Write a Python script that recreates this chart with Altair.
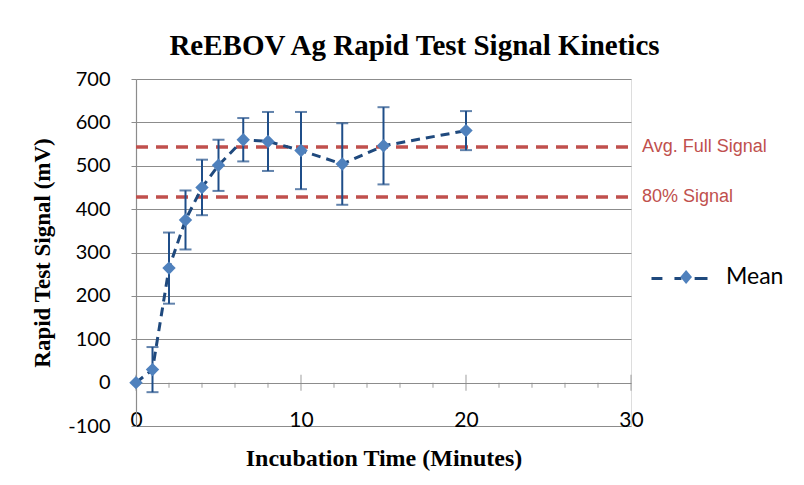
import altair as alt
import pandas as pd

# ---- data ----
time_min = [0, 1, 2, 3, 4, 5, 6.5, 8, 10, 12.5, 15, 20]
mean_mv = [0, 30, 264, 375, 450, 501, 560, 556, 535, 504, 546, 581]
sd_mv = [0, 52, 82, 68, 64, 59, 50, 68, 89, 94, 89, 45]

ref_labels = ["Avg. Full Signal", "80% Signal"]
ref_values = [543, 428]

x_major = [0, 10, 20, 30]
x_minor = [2, 4, 6, 8, 12, 14, 16, 18, 22, 24, 26, 28]
y_ticks = [-100, 0, 100, 200, 300, 400, 500, 600, 700]

df = pd.DataFrame({"t": time_min, "m": mean_mv, "sd": sd_mv})
df["lo"] = df["m"] - df["sd"]
df["hi"] = df["m"] + df["sd"]
df["series"] = "Mean"
eb = df[df["sd"] > 0]

ref = pd.DataFrame({"label": ref_labels, "v": ref_values, "x0": 0, "x1": 30})
major = pd.DataFrame({"t": x_major, "y": 0})
minor = pd.DataFrame({"t": x_minor, "y": 0})

GRAY = "#8c8c8c"
RED = "#C0504D"
DARK = "#1F497D"
LIGHT = "#4F81BD"

xs = alt.Scale(domain=[0, 30], nice=False)
ys = alt.Scale(domain=[-100, 700], nice=False)

x_axis = alt.Axis(values=x_major, domain=False, ticks=False, grid=False,
                  labelFont="Lato", labelFontSize=21, labelColor="#000",
                  labelBaseline="alphabetic", labelPadding=0, labelFlush=False,
                  title="Incubation Time (Minutes)", titleFont="Liberation Serif",
                  titleFontSize=24, titleFontWeight="bold", titleColor="#000",
                  titleBaseline="alphabetic", titleY=39)
y_axis = alt.Axis(values=y_ticks, grid=True, gridColor=GRAY, gridWidth=1.2,
                  domainColor=GRAY, domainWidth=1.2, tickColor=GRAY, tickSize=5,
                  labelFont="Lato", labelFontSize=20, labelColor="#000",
                  labelPadding=21, labelFlush=False, labelExpr="'' + datum.value",
                  title="Rapid Test Signal (mV)", titleFont="Liberation Serif",
                  titleFontSize=23, titleFontWeight="bold", titleColor="#000",
                  titleBaseline="middle", titleX=-94)

base = alt.Chart(df)

# invisible layer carrying the axes
axes = alt.Chart(df).mark_point(opacity=0).encode(
    x=alt.X("t:Q", scale=xs, axis=x_axis),
    y=alt.Y("m:Q", scale=ys, axis=y_axis),
)

ref_lines = alt.Chart(ref).mark_rule(color=RED, strokeWidth=3.5, strokeDash=[12, 8]).encode(
    x=alt.X("x0:Q", scale=xs), x2="x1:Q", y=alt.Y("v:Q", scale=ys)
)
ref_text = alt.Chart(ref).mark_text(align="left", baseline="middle", dx=11,
                                    font="Liberation Sans", fontSize=18, color=RED).encode(
    x=alt.X("x1:Q", scale=xs), y=alt.Y("v:Q", scale=ys), text="label:N"
)

major_ticks = alt.Chart(major).mark_tick(orient="vertical", size=16, thickness=1.2, color=GRAY).encode(
    x=alt.X("t:Q", scale=xs), y=alt.Y("y:Q", scale=ys)
)
minor_ticks = alt.Chart(minor).mark_tick(orient="vertical", size=5, thickness=1.2, color=GRAY,
                                         yOffset=2.5).encode(
    x=alt.X("t:Q", scale=xs), y=alt.Y("y:Q", scale=ys)
)

err_rule = alt.Chart(eb).mark_rule(color="#1F4E89", strokeWidth=2).encode(
    x=alt.X("t:Q", scale=xs), y=alt.Y("lo:Q", scale=ys), y2="hi:Q"
)
cap_lo = alt.Chart(eb).mark_tick(orient="horizontal", size=12, thickness=2, color="#1F4E89").encode(
    x=alt.X("t:Q", scale=xs), y=alt.Y("lo:Q", scale=ys)
)
cap_hi = alt.Chart(eb).mark_tick(orient="horizontal", size=12, thickness=2, color="#1F4E89").encode(
    x=alt.X("t:Q", scale=xs), y=alt.Y("hi:Q", scale=ys)
)

dash_path = "M-1,0L-0.61,0M-0.18,0L0.07,0M0.54,0L1,0"
diamond_path = "M0.29,-0.25L0.5,0L0.29,0.25L0.08,0Z"

line = base.mark_line(strokeWidth=3, strokeDash=[9, 6]).encode(
    x=alt.X("t:Q", scale=xs), y=alt.Y("m:Q", scale=ys),
    stroke=alt.Stroke("series:N", scale=alt.Scale(range=[DARK]),
                      legend=alt.Legend(title=None, orient="none", legendX=514, legendY=170,
                                        padding=0, symbolType=dash_path, symbolSize=3136,
                                        symbolStrokeWidth=3, symbolStrokeColor=DARK,
                                        labelExpr="''", labelFont="Lato", labelFontSize=23,
                                        labelOffset=20)),
)
points = base.mark_point(shape="diamond", filled=True, size=180, opacity=1).encode(
    x=alt.X("t:Q", scale=xs), y=alt.Y("m:Q", scale=ys),
    fill=alt.Fill("series:N", scale=alt.Scale(range=[LIGHT]),
                  legend=alt.Legend(title=None, orient="none", legendX=514, legendY=170,
                                    padding=0, symbolType=diamond_path, symbolSize=3136,
                                    symbolStrokeWidth=0, symbolFillColor=LIGHT, symbolOpacity=1,
                                    labelFont="Lato", labelFontSize=23, labelColor="#000",
                                    labelOffset=20)),
)

chart = alt.layer(
    axes, ref_lines, ref_text, major_ticks, minor_ticks,
    err_rule, cap_lo, cap_hi, line, points
).resolve_scale(stroke="independent", fill="independent").properties(
    width=495, height=347,
    autosize=alt.AutoSizeParams(type="none"),
    padding={"left": 128, "top": 71, "right": 165, "bottom": 51},
    title=alt.TitleParams("ReEBOV Ag Rapid Test Signal Kinetics", font="Liberation Serif",
                          fontSize=29, fontWeight="bold", color="#000", anchor="middle",
                          dx=31, dy=29, baseline="alphabetic", offset=14),
).configure_view(stroke="transparent").configure(background="white")

chart.save("out.html", embed_options={"renderer": "svg", "actions": False})
